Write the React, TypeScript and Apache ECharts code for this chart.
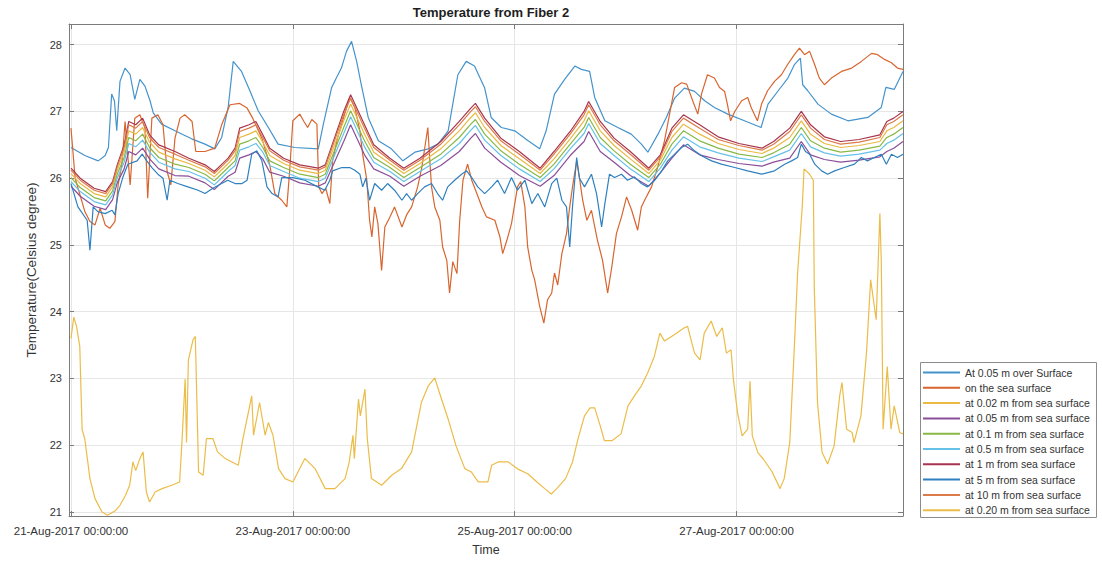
import React, { useEffect, useRef } from "react";
import * as echarts from "echarts";

const chartTitle = "Temperature from Fiber 2";
const seriesNames = [
  "At 0.05 m over Surface",
  "on the sea surface",
  "at 0.02 m from sea surface",
  "at 0.05 m from sea surface",
  "at 0.1 m from sea surface",
  "at 0.5 m from sea surface",
  "at 1 m from sea surface",
  "at 5 m from sea surface",
  "at 10 m from sea surface",
  "at 0.20 m from sea surface",
];
const seriesColors = ["#4593cc", "#d8652f", "#e9b942", "#8b4e98", "#88b846", "#66c1e8", "#a8354f", "#2f80bf", "#dc7b4a", "#ebbd48"];

// hours since 21-Aug-2017 00:00:00
const xTickHours = [0, 48, 96, 144];
const xTickLabels = ["21-Aug-2017 00:00:00", "23-Aug-2017 00:00:00", "25-Aug-2017 00:00:00", "27-Aug-2017 00:00:00"];
const yTicks = [21, 22, 23, 24, 25, 26, 27, 28];

// [hour, °C]
const airOverSurface = [
  [0, 26.46], [3.0, 26.34], [5.9, 26.26], [7.4, 26.34], [8.1, 26.46], [8.8, 27.26], [9.4, 27.16], [9.9, 26.71],
  [10.6, 27.45], [11.7, 27.65], [12.8, 27.55], [13.8, 27.18], [14.9, 27.48], [16.0, 27.38], [17.1, 27.16], [17.8, 26.98],
  [19.6, 26.81], [22.5, 26.71], [26.1, 26.59], [29.0, 26.51], [31.1, 26.44], [32.6, 26.61], [34.0, 27.06], [35.1, 27.75],
  [36.9, 27.6], [38.7, 27.31], [40.5, 27.01], [42.7, 26.76], [44.8, 26.51], [48.4, 26.46], [53.5, 26.44], [54.6, 26.81],
  [56.4, 27.36], [57.4, 27.5], [58.5, 27.65], [59.6, 27.9], [60.7, 28.05], [61.8, 27.75], [62.8, 27.4], [64.3, 26.91],
  [66.5, 26.56], [69.3, 26.44], [71.8, 26.26], [74.4, 26.39], [77.3, 26.44], [79.4, 26.51], [81.6, 26.71], [83.7, 27.55],
  [85.5, 27.75], [87.3, 27.68], [89.5, 27.35], [90.9, 26.91], [93.1, 26.76], [96.0, 26.71], [98.9, 26.56], [101.4, 26.44],
  [102.8, 26.71], [104.6, 27.26], [106.8, 27.48], [109.0, 27.68], [110.4, 27.63], [112.2, 27.6], [113.3, 27.21], [115.5, 26.86],
  [118.3, 26.76], [121.2, 26.66], [123.4, 26.51], [124.8, 26.39], [127.0, 26.66], [128.8, 26.91], [130.6, 27.2], [132.7, 27.35],
  [134.9, 27.3], [137.1, 27.16], [139.2, 27.06], [142.1, 26.96], [145.7, 26.86], [149.3, 26.76], [150.8, 27.11], [153.0, 27.31],
  [155.1, 27.5], [156.5, 27.7], [157.8, 27.8], [158.3, 27.4], [159.4, 27.31], [161.6, 27.11], [164.5, 26.96], [168.1, 26.86],
  [172.4, 26.91], [175.3, 27.06], [176.3, 27.36], [178.1, 27.33], [180, 27.6],
];

const seaSurface = [
  [0, 26.75], [0.9, 26.0], [3.0, 25.5], [4.1, 25.35], [5.2, 25.3], [6.3, 25.55], [7.4, 25.3], [8.4, 25.25], [9.5, 25.35],
  [10.2, 25.9], [11.0, 26.2], [11.7, 26.85], [12.8, 25.9], [13.8, 26.9], [14.9, 26.95], [16.0, 26.75], [16.6, 25.7],
  [17.5, 26.9], [18.8, 26.95], [19.9, 26.8], [20.8, 26.1], [21.6, 25.9], [22.5, 26.6], [23.6, 26.9], [24.6, 26.95],
  [26.2, 26.85], [27.0, 26.4], [29.0, 26.4], [31.1, 26.45], [32.6, 26.8], [34.4, 27.1], [36.5, 27.12], [38.1, 27.05],
  [39.3, 26.9], [41.3, 26.6], [43.0, 26.2], [44.1, 25.77], [45.6, 25.67], [46.7, 25.57], [47.3, 26.1], [48.0, 26.86],
  [49.5, 26.96], [50.4, 26.85], [51.2, 26.76], [52.1, 26.88], [53.2, 26.81], [53.6, 25.87], [54.3, 25.77], [55.1, 25.85],
  [56.0, 25.62], [56.6, 26.26], [57.7, 26.61], [59.2, 26.96], [60.3, 27.21], [61.4, 27.06], [62.5, 26.71], [63.1, 26.36],
  [64.0, 25.97], [64.6, 25.37], [65.1, 25.12], [65.7, 25.57], [66.4, 25.32], [67.2, 24.62], [67.9, 25.27], [69.0, 25.42],
  [70.0, 25.57], [71.6, 25.27], [72.6, 25.45], [73.7, 25.57], [75.0, 25.87], [75.9, 26.16], [77.2, 26.76], [77.6, 26.3],
  [78.0, 25.87], [78.7, 25.57], [79.8, 25.37], [80.4, 24.97], [81.3, 24.77], [81.9, 24.28], [82.6, 24.75], [83.5, 24.57],
  [84.1, 25.37], [84.8, 25.97], [85.8, 26.21], [86.7, 25.97], [87.8, 25.77], [88.9, 25.57], [89.9, 25.42], [91.7, 25.37],
  [92.8, 25.12], [93.4, 24.87], [94.3, 25.07], [95.3, 25.32], [96.6, 25.87], [97.3, 25.95], [98.2, 25.57], [98.8, 24.97],
  [99.7, 24.62], [100.3, 24.48], [101.4, 24.08], [102.3, 23.83], [103.1, 24.18], [104.0, 24.28], [104.6, 24.58], [105.3, 24.4],
  [106.2, 24.87], [107.2, 25.17], [107.9, 25.57], [108.5, 25.87], [109.4, 26.26], [110.0, 26.01], [110.7, 25.67], [111.6, 25.37],
  [112.6, 25.52], [113.9, 25.07], [115.0, 24.77], [116.1, 24.28], [117.0, 24.67], [118.0, 25.17], [119.1, 25.42], [120.2, 25.72],
  [121.3, 25.52], [122.6, 25.22], [123.4, 25.57], [124.1, 25.67], [125.6, 25.87], [126.9, 26.16], [128.4, 26.56], [129.5, 26.96],
  [130.6, 27.36], [132.1, 27.43], [133.2, 27.41], [134.5, 27.16], [135.6, 26.96], [136.4, 27.26], [137.7, 27.55], [139.2, 27.5],
  [140.3, 27.36], [141.4, 27.3], [142.0, 27.11], [142.7, 26.86], [143.6, 27.0], [145.1, 27.16], [146.4, 27.21], [147.2, 27.05],
  [148.5, 26.86], [149.4, 27.11], [150.7, 27.31], [152.2, 27.45], [153.7, 27.55], [155.0, 27.7], [156.5, 27.85], [157.6, 27.95],
  [158.7, 27.85], [159.8, 27.9], [160.9, 27.7], [161.9, 27.5], [163.0, 27.4], [164.5, 27.5], [166.7, 27.6], [168.9, 27.65],
  [171.0, 27.75], [173.2, 27.87], [174.5, 27.85], [176.0, 27.78], [177.5, 27.73], [178.8, 27.65], [180, 27.63],
];

const depth5m = [
  [0, 25.92], [1.5, 25.57], [3.5, 25.37], [4.1, 24.92], [4.8, 25.57], [5.8, 25.5], [7.4, 25.47], [8.9, 25.52], [9.5, 25.45],
  [10.2, 25.77], [11.2, 26.01], [12.3, 26.21], [14.3, 26.26], [15.4, 26.36], [16.4, 26.26], [17.5, 26.16], [18.8, 26.06],
  [19.9, 26.0], [20.8, 25.67], [21.4, 25.97], [23.1, 25.92], [25.3, 25.87], [27.5, 25.82], [29.0, 25.77], [30.7, 25.85],
  [32.6, 25.92], [33.9, 25.97], [35.5, 25.92], [37.0, 25.92], [38.1, 25.97], [39.1, 26.36], [40.2, 26.41], [41.3, 26.26],
  [42.4, 25.87], [43.5, 25.77], [44.8, 25.72], [45.6, 26.01], [48.0, 26.01], [50.6, 25.97], [53.4, 25.87], [54.9, 25.82],
  [56.0, 25.97], [56.6, 26.11], [58.6, 26.16], [60.3, 26.16], [61.4, 26.12], [62.5, 26.06], [63.1, 25.87], [63.8, 26.0],
  [64.6, 25.67], [65.7, 25.92], [67.2, 25.82], [68.5, 25.92], [70.0, 25.82], [71.6, 25.67], [72.6, 25.77], [73.7, 25.67],
  [75.0, 25.77], [76.5, 25.87], [78.0, 25.92], [79.3, 25.77], [80.4, 25.67], [81.5, 25.87], [83.0, 25.97], [84.5, 26.06],
  [85.6, 26.11], [86.7, 26.01], [88.0, 25.87], [89.5, 25.77], [91.0, 25.87], [92.3, 25.97], [93.8, 25.77], [95.3, 26.01],
  [96.6, 25.82], [98.2, 25.97], [99.7, 25.62], [101.0, 25.77], [102.5, 25.57], [104.0, 25.92], [105.1, 26.0], [106.2, 25.67],
  [107.2, 25.57], [107.9, 24.97], [108.5, 25.57], [109.4, 26.31], [110.0, 26.0], [111.1, 25.87], [112.6, 26.06], [113.7, 25.77],
  [114.8, 25.27], [115.5, 25.62], [116.5, 26.06], [117.6, 26.01], [119.1, 26.06], [120.4, 25.97], [121.9, 26.02], [123.4, 25.92],
  [124.7, 25.87], [126.3, 25.97], [127.8, 26.11], [129.1, 26.26], [130.6, 26.36], [132.1, 26.46], [133.4, 26.51], [134.9, 26.41],
  [136.6, 26.33], [138.6, 26.26], [140.7, 26.21], [143.6, 26.16], [146.4, 26.11], [149.4, 26.06], [152.2, 26.11], [154.4, 26.21],
  [155.9, 26.26], [157.2, 26.31], [158.0, 26.51], [158.9, 26.4], [159.8, 26.36], [160.9, 26.21], [162.4, 26.11], [163.7, 26.06],
  [165.2, 26.11], [167.3, 26.16], [169.5, 26.21], [171.0, 26.31], [172.3, 26.26], [173.8, 26.31], [175.3, 26.36], [176.4, 26.21],
  [177.5, 26.36], [178.8, 26.31], [180, 26.36],
];

const depth020m = [
  [0, 23.6], [0.6, 23.92], [1.2, 23.78], [1.9, 23.48], [2.4, 22.24], [3.0, 22.09], [4.1, 21.5], [5.2, 21.2], [6.7, 21.0],
  [7.9, 20.95], [9.6, 21.02], [10.6, 21.1], [11.8, 21.25], [12.7, 21.4], [13.4, 21.75], [14.0, 21.62], [14.9, 21.8], [15.6, 21.9],
  [16.3, 21.3], [17.0, 21.15], [18.2, 21.3], [19.7, 21.35], [21.8, 21.4], [23.5, 21.45], [24.0, 22.04], [24.7, 22.99], [25.0, 22.04],
  [25.4, 23.28], [26.4, 23.58], [26.9, 23.63], [27.6, 21.6], [28.6, 21.55], [29.3, 22.1], [30.7, 22.1], [31.7, 21.9], [33.4, 21.8],
  [34.8, 21.75], [36.2, 21.7], [37.2, 22.1], [38.4, 22.5], [39.1, 22.74], [39.5, 22.15], [40.8, 22.64], [42.0, 22.15], [42.7, 22.34],
  [43.7, 22.15], [44.9, 21.65], [46.3, 21.5], [48.0, 21.45], [50.6, 21.8], [52.8, 21.65], [55.0, 21.35], [57.1, 21.35], [59.3, 21.5],
  [60.2, 21.75], [61.0, 22.15], [61.3, 21.8], [62.2, 22.69], [62.6, 22.44], [63.6, 22.84], [64.1, 22.1], [65.0, 21.5], [67.2, 21.4],
  [69.4, 21.55], [71.5, 21.65], [73.7, 21.9], [75.8, 22.64], [77.3, 22.89], [78.7, 23.01], [79.7, 22.79], [81.6, 22.39], [83.3, 21.99],
  [85.2, 21.65], [86.6, 21.6], [88.1, 21.45], [90.2, 21.45], [91.0, 21.7], [92.4, 21.75], [94.6, 21.75], [96.5, 21.65], [98.9, 21.57],
  [100.8, 21.45], [102.5, 21.35], [103.9, 21.27], [105.1, 21.35], [107.0, 21.5], [108.5, 21.75], [109.7, 22.1], [111.1, 22.44],
  [112.3, 22.56], [113.3, 22.56], [114.5, 22.29], [115.4, 22.07], [117.1, 22.07], [119.0, 22.17], [120.5, 22.59], [121.9, 22.74],
  [123.4, 22.89], [124.8, 23.09], [126.2, 23.33], [127.4, 23.68], [128.4, 23.56], [130.6, 23.66], [132.7, 23.76], [133.4, 23.78],
  [134.9, 23.38], [136.1, 23.28], [137.0, 23.68], [138.5, 23.86], [139.7, 23.63], [140.9, 23.76], [141.8, 23.38], [142.8, 23.43],
  [143.3, 22.99], [144.2, 22.49], [145.2, 22.14], [146.4, 22.24], [146.9, 22.96], [147.4, 22.14], [148.6, 21.89], [149.8, 21.79],
  [150.7, 21.7], [151.7, 21.6], [153.4, 21.35], [154.3, 21.5], [155.5, 22.04], [156.5, 23.48], [157.2, 24.58], [158.2, 25.57],
  [158.6, 26.14], [159.8, 26.06], [160.6, 25.97], [160.8, 24.38], [161.5, 22.64], [162.5, 21.89], [163.7, 21.72], [165.1, 21.99],
  [166.3, 22.74], [166.8, 22.94], [167.8, 22.24], [169.0, 22.19], [169.4, 22.04], [170.9, 22.44], [172.1, 23.38], [173.0, 24.48],
  [174.2, 23.88], [175.0, 25.47], [175.3, 24.77], [175.7, 22.24], [176.6, 23.18], [177.4, 22.24], [178.1, 22.59], [179.3, 22.19],
  [180, 22.17],
];

// shared sample hours for the tightly grouped in-water sensors
const bundleHours = [
  0, 2, 5, 7.5, 9, 10, 11.5, 12.5, 14, 15.5, 17, 19, 22.5, 25.5, 29, 31, 32.5, 34, 35.5, 36.5,
  38.5, 40, 41.5, 43, 46, 49.5, 53.5, 55, 57, 59, 60.5, 61.5, 63.5, 65.5, 69, 72, 75.5, 80, 84, 86.5,
  87.5, 89.5, 93, 97, 101.5, 104.5, 108, 111, 112, 114.5, 117.5, 121, 125, 127.5, 130, 132.5, 136, 140, 144.5, 149.5,
  152, 155.5, 158, 160, 163, 166.5, 170.5, 175, 176.5, 178, 180,
];
const depth1m = [
  26.15, 26.0, 25.85, 25.8, 25.95, 26.2, 26.5, 26.85, 26.8, 26.9,
  26.65, 26.5, 26.4, 26.3, 26.2, 26.1, 26.2, 26.3, 26.45, 26.75,
  26.8, 26.85, 26.65, 26.45, 26.3, 26.2, 26.15, 26.2, 26.6, 27.0,
  27.25, 27.1, 26.8, 26.5, 26.3, 26.15, 26.3, 26.55, 26.85, 27.05,
  27.12, 26.9, 26.6, 26.4, 26.15, 26.4, 26.7, 27.0, 27.15, 26.85,
  26.6, 26.4, 26.15, 26.35, 26.75, 26.95, 26.8, 26.62, 26.52, 26.45,
  26.55, 26.75, 27.0, 26.8, 26.62, 26.55, 26.58, 26.65, 26.85, 26.9, 27.0,
];
const depth10m = [
  26.12, 25.97, 25.82, 25.77, 25.92, 26.17, 26.46, 26.8, 26.75, 26.85,
  26.61, 26.46, 26.36, 26.27, 26.17, 26.07, 26.17, 26.27, 26.41, 26.7,
  26.75, 26.8, 26.61, 26.41, 26.27, 26.17, 26.12, 26.17, 26.56, 26.95,
  27.2, 27.05, 26.75, 26.46, 26.27, 26.12, 26.27, 26.51, 26.8, 27.0,
  27.07, 26.85, 26.56, 26.36, 26.12, 26.36, 26.66, 26.95, 27.1, 26.8,
  26.56, 26.36, 26.12, 26.32, 26.7, 26.9, 26.75, 26.58, 26.49, 26.42,
  26.51, 26.7, 26.95, 26.75, 26.58, 26.51, 26.54, 26.61, 26.8, 26.85, 26.95,
];
const depth002m = [
  26.07, 25.92, 25.77, 25.72, 25.87, 26.12, 26.39, 26.71, 26.66, 26.76,
  26.54, 26.39, 26.29, 26.22, 26.12, 26.02, 26.12, 26.22, 26.34, 26.61,
  26.66, 26.71, 26.54, 26.34, 26.22, 26.12, 26.07, 26.12, 26.49, 26.86,
  27.11, 26.96, 26.66, 26.39, 26.22, 26.07, 26.22, 26.44, 26.71, 26.91,
  26.98, 26.76, 26.49, 26.29, 26.07, 26.29, 26.59, 26.86, 27.01, 26.71,
  26.49, 26.29, 26.07, 26.27, 26.61, 26.81, 26.66, 26.52, 26.43, 26.37,
  26.45, 26.61, 26.86, 26.66, 26.52, 26.46, 26.49, 26.55, 26.71, 26.76, 26.86,
];
const depth01m = [
  26.01, 25.86, 25.71, 25.66, 25.81, 26.06, 26.31, 26.61, 26.56, 26.66,
  26.46, 26.31, 26.21, 26.16, 26.06, 25.96, 26.06, 26.16, 26.26, 26.51,
  26.56, 26.61, 26.46, 26.26, 26.16, 26.06, 26.01, 26.06, 26.41, 26.76,
  27.01, 26.86, 26.56, 26.31, 26.16, 26.01, 26.16, 26.36, 26.61, 26.81,
  26.88, 26.66, 26.41, 26.21, 26.01, 26.21, 26.51, 26.76, 26.91, 26.61,
  26.41, 26.21, 26.01, 26.21, 26.51, 26.71, 26.56, 26.45, 26.36, 26.31,
  26.38, 26.51, 26.76, 26.56, 26.45, 26.39, 26.42, 26.48, 26.61, 26.66, 26.76,
];
const depth05m = [
  25.95, 25.8, 25.65, 25.6, 25.75, 26.0, 26.24, 26.52, 26.47, 26.57,
  26.39, 26.24, 26.14, 26.1, 26.0, 25.9, 26.0, 26.1, 26.19, 26.42,
  26.47, 26.52, 26.39, 26.19, 26.1, 26.0, 25.95, 26.0, 26.34, 26.67,
  26.92, 26.77, 26.47, 26.24, 26.1, 25.95, 26.1, 26.29, 26.52, 26.72,
  26.79, 26.57, 26.34, 26.14, 25.95, 26.14, 26.44, 26.67, 26.82, 26.52,
  26.34, 26.14, 25.95, 26.15, 26.42, 26.62, 26.47, 26.38, 26.3, 26.25,
  26.32, 26.42, 26.67, 26.47, 26.38, 26.33, 26.36, 26.42, 26.52, 26.57, 26.67,
];
const depth005m = [
  25.88, 25.73, 25.58, 25.53, 25.68, 25.93, 26.14, 26.4, 26.35, 26.45,
  26.29, 26.14, 26.04, 26.03, 25.93, 25.83, 25.93, 26.03, 26.09, 26.3,
  26.35, 26.4, 26.29, 26.09, 26.03, 25.93, 25.88, 25.93, 26.24, 26.55,
  26.8, 26.65, 26.35, 26.14, 26.03, 25.88, 26.03, 26.19, 26.4, 26.6,
  26.67, 26.45, 26.24, 26.04, 25.88, 26.04, 26.34, 26.55, 26.7, 26.4,
  26.24, 26.04, 25.88, 26.08, 26.3, 26.5, 26.35, 26.28, 26.22, 26.18,
  26.24, 26.3, 26.55, 26.35, 26.28, 26.24, 26.27, 26.32, 26.4, 26.45, 26.55,
];

const FONT = "'Liberation Sans', Arial, Helvetica, sans-serif";

function pairBundle(values: number[]) {
  return bundleHours.map((h, i) => [h, values[i]]);
}

export default function App() {
  const ref = useRef<HTMLDivElement>(null);
  useEffect(() => {
    if (!ref.current) return;
    const chart = echarts.init(ref.current, null, { renderer: "svg" });
    const seriesData = [
      airOverSurface,
      seaSurface,
      pairBundle(depth002m),
      pairBundle(depth005m),
      pairBundle(depth01m),
      pairBundle(depth05m),
      pairBundle(depth1m),
      depth5m,
      pairBundle(depth10m),
      depth020m,
    ];
    const axisGray = "#7c7c7c";
    const gridGray = "#e6e6e6";
    const xMin = -0.43;
    const xMax = 180;
    const yMin = 20.94;
    const yMax = 28.31;
    chart.setOption({
      animation: false,
      backgroundColor: "#ffffff",
      color: seriesColors,
      title: {
        text: chartTitle,
        left: 486,
        top: 1,
        textAlign: "center",
        textStyle: { fontFamily: FONT, fontSize: 13, fontWeight: "bold", color: "#1e1e1e" },
      },
      grid: { left: 69, top: 24, width: 834, height: 493, containLabel: false },
      legend: {
        data: seriesNames,
        orient: "vertical",
        left: 920,
        top: 363,
        padding: [4, 4, 3, 2],
        itemWidth: 37,
        itemHeight: 10,
        itemGap: 4.3,
        itemStyle: { opacity: 0 },
        textStyle: { fontFamily: FONT, fontSize: 10.5, color: "#333" },
      },
      graphic: [
        {
          type: "rect",
          z: 0,
          shape: { x: 920.5, y: 362.5, width: 176, height: 155 },
          style: { fill: "#ffffff", stroke: "#8c8c8c", lineWidth: 1 },
        },
      ],
      xAxis: [
        {
          type: "value",
          min: xMin,
          max: xMax,
          position: "bottom",
          name: "Time",
          nameLocation: "middle",
          nameGap: 27,
          nameTextStyle: { fontFamily: FONT, fontSize: 12.5, color: "#333" },
          axisLine: { show: true, onZero: false, lineStyle: { color: axisGray, width: 1 } },
          axisTick: { show: true, inside: true, length: 5, customValues: xTickHours, lineStyle: { color: axisGray } },
          axisLabel: {
            customValues: xTickHours,
            formatter: (v: number) => xTickLabels[xTickHours.indexOf(Math.round(v))] ?? "",
            fontFamily: FONT,
            fontSize: 11.5,
            color: "#333",
            margin: 9,
          },
          splitLine: { show: true, lineStyle: { color: gridGray, width: 1 } },
        },
        {
          type: "value",
          min: xMin,
          max: xMax,
          position: "top",
          axisLine: { show: true, onZero: false, lineStyle: { color: axisGray, width: 1 } },
          axisTick: { show: true, inside: true, length: 5, customValues: xTickHours, lineStyle: { color: axisGray } },
          axisLabel: { show: false },
          splitLine: { show: false },
        },
      ],
      yAxis: [
        {
          type: "value",
          min: yMin,
          max: yMax,
          position: "left",
          name: "Temperature(Celsius degree)",
          nameLocation: "middle",
          nameGap: 26,
          nameTextStyle: { fontFamily: FONT, fontSize: 13.5, color: "#333" },
          axisLine: { show: true, onZero: false, lineStyle: { color: axisGray, width: 1 } },
          axisTick: { show: true, inside: true, length: 5, customValues: yTicks, lineStyle: { color: axisGray } },
          axisLabel: { customValues: yTicks, fontFamily: FONT, fontSize: 11, color: "#333", margin: 7 },
          splitLine: { show: true, lineStyle: { color: gridGray, width: 1 } },
        },
        {
          type: "value",
          min: yMin,
          max: yMax,
          position: "right",
          axisLine: { show: true, onZero: false, lineStyle: { color: axisGray, width: 1 } },
          axisTick: { show: true, inside: true, length: 5, customValues: yTicks, lineStyle: { color: axisGray } },
          axisLabel: { show: false },
          splitLine: { show: false },
        },
      ],
      series: seriesNames.map((name, i) => ({
        name,
        type: "line",
        xAxisIndex: 0,
        yAxisIndex: 0,
        data: seriesData[i],
        symbol: "none",
        showSymbol: false,
        clip: true,
        lineStyle: { width: 1.2, color: seriesColors[i] },
        itemStyle: { color: seriesColors[i] },
        z: 2 + i * 0.01,
      })),
    });
    return () => chart.dispose();
  }, []);
  return <div ref={ref} style={{ position: "fixed", left: 0, top: 0, width: 1102, height: 561 }} />;
}
